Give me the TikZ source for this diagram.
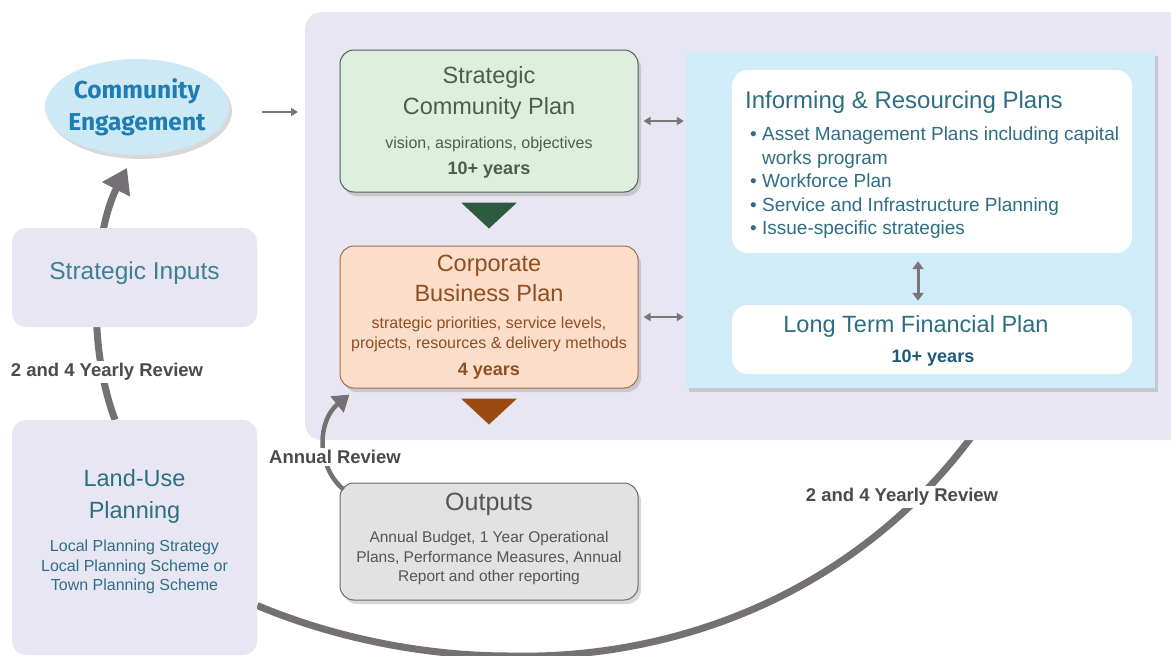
\documentclass[tikz,border=0pt]{standalone}
\usepackage{fontspec}
\setmainfont{Liberation Sans}
\newfontfamily\cefont{Fira Sans}
\usetikzlibrary{arrows.meta, positioning, shadows, backgrounds, shapes.geometric}
\definecolor{PanelBg}{HTML}{E8E6F3}
\definecolor{CEFill}{HTML}{CDE9F6}
\definecolor{CEText}{HTML}{1F7DB1}
\definecolor{SCPFill}{HTML}{DFEFDF}
\definecolor{SCPDraw}{HTML}{4F5F55}
\definecolor{SCPText}{HTML}{4A5E50}
\definecolor{SCPTri}{HTML}{2E5A3E}
\definecolor{CBPFill}{HTML}{FBDDCA}
\definecolor{CBPDraw}{HTML}{A0704A}
\definecolor{CBPText}{HTML}{8E4F22}
\definecolor{CBPTri}{HTML}{9B4A12}
\definecolor{LBFill}{HTML}{D0ECF9}
\definecolor{IRPText}{HTML}{2D6E84}
\definecolor{LTBold}{HTML}{1E5A78}
\definecolor{OutFill}{HTML}{E2E2E2}
\definecolor{OutDraw}{HTML}{6A6A6A}
\definecolor{OutText}{HTML}{555555}
\definecolor{LoopGray}{HTML}{757073}
\definecolor{LinkGray}{HTML}{7A7678}
\definecolor{ReviewText}{HTML}{4B4B4B}
\definecolor{InputText}{HTML}{3C8096}

\begin{document}
\begin{tikzpicture}[x=1pt, y=-1pt, every node/.style={inner sep=0pt},
    box/.style={rounded corners=14pt, minimum width=298pt, line width=1pt},
    sidebox/.style={fill=PanelBg, rounded corners=14pt, minimum width=245pt},
    whitebox/.style={fill=white, rounded corners=16pt, minimum width=400pt},
    shade/.style={drop shadow={opacity=0.3, shadow xshift=3pt, shadow yshift=-4pt}},
    head/.style={font=\fontsize{23.5}{31}\selectfont, align=center},
    small/.style={font=\fontsize{16}{20}\selectfont, align=center},
    years/.style={font=\fontsize{18}{20}\selectfont\bfseries},
    review/.style={font=\fontsize{18.5}{20}\selectfont\bfseries, text=ReviewText, fill=white, inner sep=2pt},
    loop/.style={draw=LoopGray, line width=7pt},
    link/.style={draw=LinkGray, line width=2pt, {Triangle[length=7pt,width=8pt]}-{Triangle[length=7pt,width=8pt]}}]

  \useasboundingbox (0,0) rectangle (1171,656);

  % frame round the plans
  \node[fill=PanelBg, rounded corners=16pt, minimum width=880pt, minimum height=428pt, anchor=north west] (panel) at (305,12) {};

  % left column
  \node[ellipse, fill=CEFill, shade, minimum width=184pt, minimum height=96pt, inner sep=-12pt, text=CEText, align=center,
        font=\cefont\bfseries\fontsize{24.5}{32}\selectfont] (ce) at (137,107) {Community\\Engagement};
  \node[sidebox, minimum height=99pt] (si) at (134.5,277.5) {};
  \node[head, text=InputText, font=\fontsize{24.5}{31}\selectfont] (siT) at (134.5,273) {Strategic Inputs};
  \node[sidebox, minimum height=235pt] (lup) at (134.5,537.5) {};
  \node[head, text=IRPText, font=\fontsize{23.5}{32}\selectfont] (lupT) at (134.5,496) {Land-Use\\Planning};
  \node[small, text=IRPText, font=\fontsize{16}{19.5}\selectfont] (lupS) at (134.5,567)
    {Local Planning Strategy\\Local Planning Scheme or\\Town Planning Scheme};

  % plans
  \node[box, fill=SCPFill, draw=SCPDraw, shade, minimum height=142pt] (scp) at (489,121) {};
  \node[head, text=SCPText] (scpT) at (489,93) {Strategic\\Community Plan};
  \node[small, text=SCPText] (scpS) at (489,158) {vision, aspirations, objectives\\[6pt]{\fontsize{18}{20}\selectfont\bfseries 10+ years}};
  \fill[SCPTri] ([xshift=-28pt,yshift=-10pt]scp.south) -- ([xshift=28pt,yshift=-10pt]scp.south) -- ([yshift=-36pt]scp.south) -- cycle;

  \node[box, fill=CBPFill, draw=CBPDraw, shade, minimum height=142pt] (cbp) at (489,317) {};
  \node[head, text=CBPText, font=\fontsize{23.5}{30}\selectfont] (cbpT) at (489,278) {Corporate\\Business Plan};
  \node[small, text=CBPText] (cbpS) at (489,348.5)
    {strategic priorities, service levels,\\projects, resources \& delivery methods\\[7pt]{\fontsize{18}{20}\selectfont\bfseries 4 years}};
  \fill[CBPTri] ([xshift=-28pt,yshift=-10pt]cbp.south) -- ([xshift=28pt,yshift=-10pt]cbp.south) -- ([yshift=-36pt]cbp.south) -- cycle;

  \node[fill=LBFill, shade, minimum width=469pt, minimum height=336pt] (lb) at (920.5,220) {};
  \node[whitebox, minimum height=183pt] (irp) at (932,161.5) {};
  \node[head, text=IRPText, anchor=west, font=\fontsize{24}{31}\selectfont] (irpT) at (745,102) {Informing \& Resourcing Plans};
  \node[text=IRPText, font=\fontsize{19}{23.5}\selectfont, align=left, anchor=north west] (irpS) at (750,127)
    {\textbullet\ Asset Management Plans including capital\\\phantom{\textbullet\ }works program\\\textbullet\ Workforce Plan\\\textbullet\ Service and Infrastructure Planning\\\textbullet\ Issue-specific strategies};
  \node[whitebox, minimum height=69pt] (ltfp) at (932,339.5) {};
  \node[head, text=IRPText] (ltfpT) at (916,326) {Long Term Financial Plan};
  \node[years, text=LTBold] (ltfpS) at (933,358) {10+ years};

  \node[box, fill=OutFill, draw=OutDraw, shade, minimum height=117pt] (out) at (489,541.5) {};
  \node[head, text=OutText, font=\fontsize{25}{31}\selectfont] (outT) at (489,504) {Outputs};
  \node[small, text=OutText, font=\fontsize{15.5}{19.5}\selectfont] (outS) at (489,558)
    {Annual Budget, 1 Year Operational\\Plans, Performance Measures, Annual\\Report and other reporting};

  % small arrows
  \draw[draw=LinkGray, line width=2pt, -{Triangle[length=7pt,width=8pt]}, shorten <=33pt, shorten >=7pt]
    ([yshift=-5pt]ce.east) -- ([yshift=-5pt]ce.east -| panel.west);
  \draw[link, shorten <=5pt, shorten >=2pt] (scp.east) -- (scp.east -| lb.west);
  \draw[link, shorten <=5pt, shorten >=2pt] (cbp.east) -- (cbp.east -| lb.west);
  \draw[draw=LinkGray, line width=3pt, {Triangle[length=8pt,width=11pt]}-{Triangle[length=8pt,width=11pt]}, shorten <=8pt, shorten >=4pt]
    ([xshift=-14pt]irp.south) -- ([xshift=-14pt]ltfp.north);

  % review loops
  \begin{scope}[on background layer]
    \fill[white] (0,0) rectangle (1171,656);
    \draw[loop, -{Triangle[length=24pt,width=30pt]}] (lup.north -| 115,0) .. controls (85,340) and (95,230) .. (127,168);
    \draw[loop] ([yshift=-68pt]lup.east) .. controls (320,632) and (410,656) .. (510,656)
      .. controls (680,660) and (860,590) .. (975,432);
  \end{scope}
  \draw[draw=LoopGray, line width=4.5pt, -{Triangle[length=16pt,width=20pt]}]
    ([shift={(4,7)}]out.north west) .. controls (315,465) and (318,420) .. ([shift={(10,6)}]cbp.south west);

  \node[review] (rv1) at (107,372) {2 and 4 Yearly Review};
  \node[review] (rv2) at (335,457) {Annual Review};
  \node[review] (rv3) at (902,497) {2 and 4 Yearly Review};
\end{tikzpicture}
\end{document}
